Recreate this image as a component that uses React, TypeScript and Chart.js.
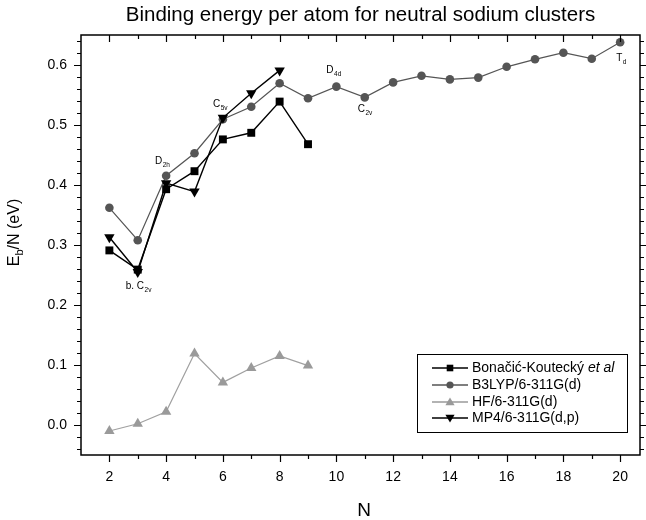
import React, { useEffect, useRef } from "react";
import { Chart, registerables } from "chart.js";
Chart.register(...registerables);

// ---- data ----
const nB3lyp = [2, 3, 4, 5, 6, 7, 8, 9, 10, 11, 12, 13, 14, 15, 16, 17, 18, 19, 20];
const b3lyp = [0.362, 0.308, 0.4155, 0.453, 0.5095, 0.5305, 0.5695, 0.5445, 0.564, 0.546, 0.571, 0.582, 0.576, 0.579, 0.597, 0.6095, 0.6205, 0.6105, 0.638];
const nBonacic = [2, 3, 4, 5, 6, 7, 8, 9];
const bonacic = [0.291, 0.259, 0.393, 0.423, 0.476, 0.487, 0.539, 0.468];
const nHf = [2, 3, 4, 5, 6, 7, 8, 9];
const hf = [-0.01, 0.002, 0.022, 0.119, 0.071, 0.095, 0.115, 0.099];
const nMp4 = [2, 3, 4, 5, 6, 7, 8];
const mp4 = [0.313, 0.255, 0.403, 0.389, 0.512, 0.553, 0.591];

const xTickValues = [2, 4, 6, 8, 10, 12, 14, 16, 18, 20];
const yTickValues = [0, 0.1, 0.2, 0.3, 0.4, 0.5, 0.6];

const titleText = "Binding energy per atom for neutral sodium clusters";
const xTitle = "N";
const yTitleMain = "E";
const yTitleSub = "b";
const yTitleRest = "/N (eV)";

const annotations = [
  { n: 3.02, e: 0.227, main: "b. C", sub: "2v" },
  { n: 3.86, e: 0.435, main: "D", sub: "2h" },
  { n: 5.9, e: 0.5295, main: "C", sub: "5v" },
  { n: 9.9, e: 0.586, main: "D", sub: "4d" },
  { n: 11.0, e: 0.522, main: "C", sub: "2v" },
  { n: 20.03, e: 0.607, main: "T", sub: "d" },
];

const legendItems = [
  { label: "Bonačić-Koutecký ", italic: "et al", color: "#000000", shape: "rect" },
  { label: "B3LYP/6-311G(d)", italic: "", color: "#555555", shape: "circle" },
  { label: "HF/6-311G(d)", italic: "", color: "#9a9a9a", shape: "up" },
  { label: "MP4/6-311G(d,p)", italic: "", color: "#000000", shape: "down" },
];

const FONT = '"Liberation Sans", Arial, Helvetica, sans-serif';

function pts(ns: number[], vs: number[]) {
  return ns.map((n, i) => ({ x: n, y: vs[i] }));
}

function drawShape(ctx: CanvasRenderingContext2D, shape: string, x: number, y: number, s: number) {
  ctx.beginPath();
  if (shape === "rect") {
    ctx.rect(x - s, y - s, 2 * s, 2 * s);
  } else if (shape === "circle") {
    ctx.arc(x, y, s, 0, Math.PI * 2);
  } else if (shape === "up") {
    ctx.moveTo(x, y - s * 1.1);
    ctx.lineTo(x + s * 1.15, y + s * 0.8);
    ctx.lineTo(x - s * 1.15, y + s * 0.8);
    ctx.closePath();
  } else {
    ctx.moveTo(x, y + s * 1.1);
    ctx.lineTo(x + s * 1.15, y - s * 0.8);
    ctx.lineTo(x - s * 1.15, y - s * 0.8);
    ctx.closePath();
  }
  ctx.fill();
}

const customPlugin = {
  id: "customDraw",
  afterDraw(chart: any) {
    const ctx: CanvasRenderingContext2D = chart.ctx;
    const { left, right, top, bottom } = chart.chartArea;
    const xs = chart.scales.x;
    const ys = chart.scales.y;
    ctx.save();
    // frame
    ctx.strokeStyle = "#000";
    ctx.lineWidth = 1.5;
    ctx.strokeRect(left, top, right - left, bottom - top);
    // ticks
    ctx.lineWidth = 1.2;
    ctx.beginPath();
    for (let k = -2; k <= 32; k++) {
      const v = k * 0.02;
      const py = Math.round(ys.getPixelForValue(v)) + 0.5;
      const len = k % 5 === 0 ? 7 : 4;
      ctx.moveTo(left, py);
      ctx.lineTo(left - len, py);
      ctx.moveTo(right, py);
      ctx.lineTo(right + len, py);
    }
    for (let n = 2; n <= 20; n++) {
      const px = Math.round(xs.getPixelForValue(n)) + 0.5;
      const len = n % 2 === 0 ? 7 : 4;
      ctx.moveTo(px, bottom);
      ctx.lineTo(px, bottom + len);
      ctx.moveTo(px, top);
      ctx.lineTo(px, top + len);
    }
    ctx.stroke();

    ctx.fillStyle = "#000";
    // title
    ctx.font = `20.5px ${FONT}`;
    ctx.textAlign = "center";
    ctx.textBaseline = "alphabetic";
    ctx.fillText(titleText, (left + right) / 2, 21);
    // x title
    ctx.font = `19px ${FONT}`;
    ctx.fillText(xTitle, 364, 516);
    // y title (rotated, with subscript)
    ctx.save();
    ctx.translate(19, 232.5);
    ctx.rotate(-Math.PI / 2);
    ctx.textAlign = "left";
    const mainF = `16px ${FONT}`;
    const subF = `11px ${FONT}`;
    ctx.font = mainF;
    const w1 = ctx.measureText(yTitleMain).width;
    const w3 = ctx.measureText(yTitleRest).width;
    ctx.font = subF;
    const w2 = ctx.measureText(yTitleSub).width;
    let sx = -(w1 + w2 + w3) / 2;
    ctx.font = mainF;
    ctx.fillText(yTitleMain, sx, 0);
    sx += w1;
    ctx.font = subF;
    ctx.fillText(yTitleSub, sx, 4);
    sx += w2;
    ctx.font = mainF;
    ctx.fillText(yTitleRest, sx, 0);
    ctx.restore();

    // annotations
    for (const a of annotations) {
      const px = xs.getPixelForValue(a.n);
      const py = ys.getPixelForValue(a.e);
      ctx.textAlign = "left";
      ctx.font = `10px ${FONT}`;
      const mw = ctx.measureText(a.main).width;
      ctx.font = `6.5px ${FONT}`;
      const sw = ctx.measureText(a.sub).width;
      let ax = px - (mw + sw) / 2;
      ctx.font = `10px ${FONT}`;
      ctx.fillText(a.main, ax, py);
      ctx.font = `6.5px ${FONT}`;
      ctx.fillText(a.sub, ax + mw + 0.5, py + 3);
    }

    // legend
    const lx = 417.5, ly = 354.5, lw = 210, lh = 78;
    ctx.lineWidth = 1;
    ctx.strokeStyle = "#000";
    ctx.fillStyle = "#fff";
    ctx.fillRect(lx, ly, lw, lh);
    ctx.strokeRect(lx, ly, lw, lh);
    const rowsY = [368, 385, 402, 418];
    legendItems.forEach((it, i) => {
      const y = rowsY[i];
      ctx.strokeStyle = it.color;
      ctx.lineWidth = 1.3;
      ctx.beginPath();
      ctx.moveTo(432, y);
      ctx.lineTo(468, y);
      ctx.stroke();
      ctx.fillStyle = it.color;
      drawShape(ctx, it.shape, 450, y, it.shape === "circle" ? 3.6 : it.shape === "rect" ? 3.3 : 4);
      ctx.fillStyle = "#000";
      ctx.textAlign = "left";
      ctx.textBaseline = "middle";
      ctx.font = `14px ${FONT}`;
      ctx.fillText(it.label, 472, y + 0.5);
      if (it.italic) {
        const w = ctx.measureText(it.label).width;
        ctx.font = `italic 14px ${FONT}`;
        ctx.fillText(it.italic, 472 + w, y + 0.5);
      }
    });
    ctx.restore();
  },
};

export default function App() {
  const ref = useRef<HTMLCanvasElement | null>(null);
  useEffect(() => {
    if (!ref.current) return;
    const chart = new Chart(ref.current, {
      type: "line",
      data: {
        datasets: [
          {
            label: "MP4/6-311G(d,p)",
            data: pts(nMp4, mp4),
            borderColor: "#000",
            backgroundColor: "#000",
            borderWidth: 1.4,
            pointStyle: "triangle",
            rotation: 180,
            pointRadius: 6,
            pointBorderWidth: 0,
            order: 1,
          },
          {
            label: "Bonačić-Koutecký et al",
            data: pts(nBonacic, bonacic),
            borderColor: "#000",
            backgroundColor: "#000",
            borderWidth: 1.4,
            pointStyle: "rect",
            pointRadius: 5.6,
            pointBorderWidth: 0,
            order: 2,
          },
          {
            label: "B3LYP/6-311G(d)",
            data: pts(nB3lyp, b3lyp),
            borderColor: "#555",
            backgroundColor: "#555",
            borderWidth: 1.2,
            pointStyle: "circle",
            pointRadius: 4.3,
            pointBorderWidth: 0,
            order: 3,
          },
          {
            label: "HF/6-311G(d)",
            data: pts(nHf, hf),
            borderColor: "#a0a0a0",
            backgroundColor: "#9a9a9a",
            borderWidth: 1.2,
            pointStyle: "triangle",
            pointRadius: 6,
            pointBorderWidth: 0,
            order: 4,
          },
        ],
      },
      options: {
        responsive: false,
        devicePixelRatio: 1,
        animation: false,
        layout: { padding: { top: 35, right: 4, left: 0, bottom: 0 } },
        plugins: { legend: { display: false }, title: { display: false }, tooltip: { enabled: false } },
        scales: {
          x: {
            type: "linear",
            min: 1,
            max: 20.7,
            grid: { display: false, drawTicks: false },
            border: { display: false },
            afterBuildTicks: (axis: any) => {
              axis.ticks = xTickValues.map((v) => ({ value: v }));
            },
            afterFit: (axis: any) => {
              axis.height = 65;
            },
            ticks: {
              autoSkip: false,
              maxRotation: 0,
              padding: 14,
              color: "#000",
              font: { family: FONT, size: 14 },
              callback: (v: any) => String(v),
            },
          },
          y: {
            type: "linear",
            min: -0.05,
            max: 0.65,
            grid: { display: false, drawTicks: false },
            border: { display: false },
            afterBuildTicks: (axis: any) => {
              axis.ticks = yTickValues.map((v) => ({ value: v }));
            },
            afterFit: (axis: any) => {
              axis.width = 81;
            },
            ticks: {
              autoSkip: false,
              padding: 14,
              color: "#000",
              font: { family: FONT, size: 14 },
              callback: (v: any) => Number(v).toFixed(1),
            },
          },
        },
      },
      plugins: [customPlugin],
    } as any);
    return () => chart.destroy();
  }, []);
  return (
    <div style={{ position: "fixed", left: 0, top: 0, width: 646, height: 520, background: "#fff" }}>
      <canvas ref={ref} width={646} height={520} style={{ width: 646, height: 520, display: "block" }} />
    </div>
  );
}
